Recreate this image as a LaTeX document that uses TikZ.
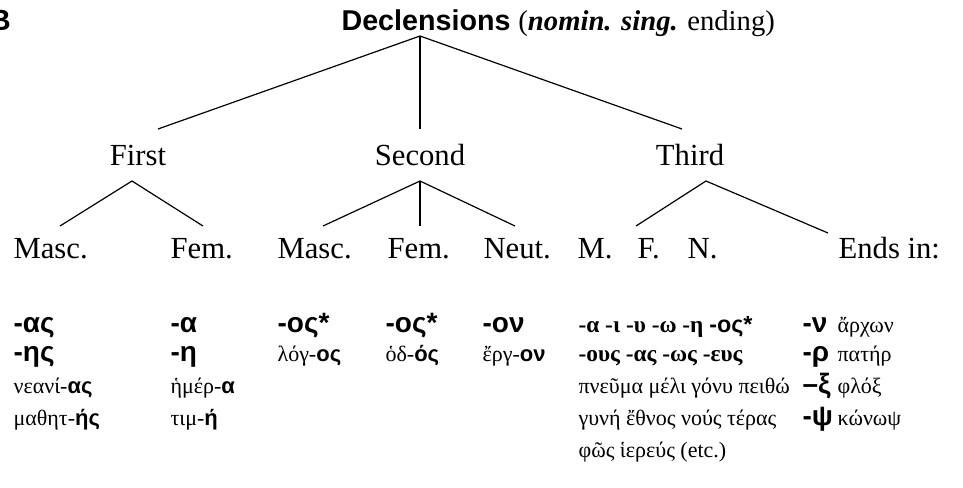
\documentclass[tikz,border=0pt]{standalone}
\usepackage{fontspec}
\setmainfont{Liberation Serif}
\setsansfont{Liberation Sans}
\usepackage{tikz}
\newcommand{\bsf}[1]{{\sffamily\bfseries #1}}
\tikzset{
    lbl/.style={font=\fontsize{23}{23}\selectfont, inner sep=0pt, anchor=base west},
    endg/.style={font=\sffamily\bfseries\fontsize{21}{21}\selectfont, inner sep=0pt, anchor=base west},
    endt/.style={font=\bfseries\fontsize{17.5}{17.5}\selectfont, inner sep=0pt, anchor=base west},
    wrd/.style={font=\fontsize{16.5}{16.5}\selectfont, inner sep=0pt, anchor=base west},
}
\begin{document}
\begin{tikzpicture}[x=0.75pt,y=-0.75pt,line width=0.9pt]
\useasboundingbox (0,0) rectangle (963,487);

\node[font=\sffamily\bfseries\fontsize{22}{22}\selectfont, inner sep=0pt, anchor=base west] (panel) at (-11,30) {B};
\node[font=\fontsize{21.5}{21.5}\selectfont, inner sep=0pt, anchor=base west] (decl) at (341,30)
    {\sffamily\bfseries Declensions \normalfont(\textbf{\textit{nomin. sing.}} ending)};

\node[lbl, anchor=base] (first) at (138,165) {First};
\node[lbl, anchor=base] (second) at (420,165) {Second};
\node[lbl, anchor=base] (third) at (690,165) {Third};

\coordinate (top) at (420,36);
\coordinate (t1) at (158,129);
\coordinate (t2) at (420,129);
\coordinate (t3) at (682,129);
\draw (t1) -- (top) -- (t3);
\draw (top) -- (t2);

\node[lbl] (masc1) at (13,258) {Masc.};
\node[lbl] (fem1) at (170,258) {Fem.};
\node[lbl] (masc2) at (277,258) {Masc.};
\node[lbl] (fem2) at (387,258) {Fem.};
\node[lbl] (neut) at (483,258) {Neut.};
\node[lbl] (m3) at (577,258) {M.};
\node[lbl] (f3) at (637,258) {F.};
\node[lbl] (n3) at (687,258) {N.};
\node[lbl] (ends) at (838,258) {Ends in:};

\coordinate (a1) at (132,181);
\coordinate (a1l) at (60,226);
\coordinate (a1r) at (203,226);
\draw (a1l) -- (a1) -- (a1r);
\coordinate (a2) at (420,181);
\coordinate (a2l) at (323,226);
\coordinate (a2m) at (420,226);
\coordinate (a2r) at (515,226);
\draw (a2l) -- (a2) -- (a2r);
\draw (a2) -- (a2m);
\coordinate (a3) at (706,181);
\coordinate (a3l) at (636,226);
\coordinate (a3r) at (828,233);
\draw (a3l) -- (a3) -- (a3r);

\node[endg] (e11) at (13,332) {-ας};
\node[endg] (e12) at (13,361) {-ης};
\node[wrd] (w11) at (13,393) {νεανί-\bsf{ας}};
\node[wrd] (w12) at (13,425) {μαθητ-\bsf{ής}};

\node[endg] (e21) at (170,332) {-α};
\node[endg] (e22) at (170,361) {-η};
\node[wrd] (w21) at (170,393) {ἡμέρ-\bsf{α}};
\node[wrd] (w22) at (170,425) {τιμ-\bsf{ή}};

\node[endg] (e31) at (277,332) {-ος*};
\node[wrd] (w31) at (277,361) {λόγ-\bsf{ος}};
\node[endg] (e41) at (385,332) {-ος*};
\node[wrd] (w41) at (385,361) {ὁδ-\bsf{ός}};
\node[endg] (e51) at (482,332) {-ον};
\node[wrd] (w51) at (482,361) {ἔργ-\bsf{ον}};

\node[endt] (e61) at (578,332) {-α -ι -υ -ω -η \bsf{-ος*}};
\node[endt] (e62) at (578,361) {-ους -ας -ως -ευς};
\node[wrd] (w61) at (578,393) {πνεῦμα μέλι γόνυ πειθώ};
\node[wrd] (w62) at (578,425) {γυνή ἔθνος νούς τέρας};
\node[wrd] (w63) at (578,457) {φῶς ἱερεύς (etc.)};

\node[endg] (e71) at (802,332) {-ν};
\node[endg] (e72) at (802,361) {-ρ};
\node[endg] (e73) at (802,393) {–ξ};
\node[endg] (e74) at (802,425) {-ψ};
\node[wrd] (w71) at (837,332) {ἄρχων};
\node[wrd] (w72) at (837,361) {πατήρ};
\node[wrd] (w73) at (837,393) {φλόξ};
\node[wrd] (w74) at (837,425) {κώνωψ};
\end{tikzpicture}
\end{document}
